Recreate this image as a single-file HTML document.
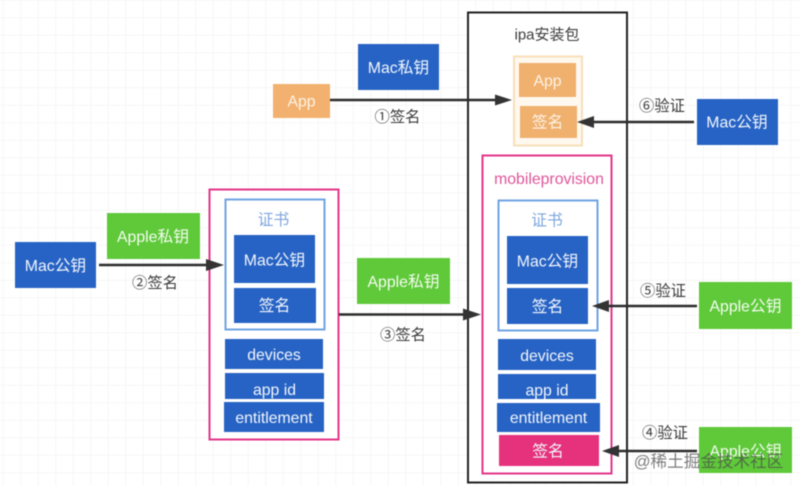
<!DOCTYPE html>
<html lang="zh">
<head>
<meta charset="utf-8">
<title>ipa签名流程</title>
<style>
html,body{margin:0;padding:0;width:800px;height:486px;overflow:hidden;background:#fff}
svg{display:block;filter:blur(.45px)}
text{font-family:"Liberation Sans","Noto Sans CJK SC",sans-serif;font-size:15.8px;text-anchor:middle;dominant-baseline:central;transform:translateY(.8px)}
.w{fill:#f2f6fc}
.d{fill:#3c3c3c}
.g{fill:#f4fbf0}
.o{fill:#fdf3e6}
.bt{fill:#7fa6de}
.line{stroke:#2b2b2b;stroke-width:2.4;fill:none}
.head{fill:#333}
</style>
</head>
<body>
<svg xmlns="http://www.w3.org/2000/svg" width="800" height="486" viewBox="0 0 800 486">
<defs>
<pattern id="grid" width="17.5" height="17.5" patternUnits="userSpaceOnUse" x="3" y="0">
<path d="M0 0V17.5M0 0H17.5" stroke="#f0f0f0" stroke-width="1" fill="none"/>
</pattern>
</defs>
<rect width="800" height="486" fill="#fff"/>
<rect width="800" height="486" fill="url(#grid)"/>

<!-- ipa package -->
<rect x="468" y="12.5" width="159" height="470" fill="#fff" stroke="#222" stroke-width="2"/>
<text x="547" y="34" class="d" style="font-size:15px">ipa安装包</text>
<rect x="514" y="56.5" width="68" height="89" fill="#fef8ee" stroke="#f7dfba" stroke-width="2"/>
<rect x="519" y="63" width="57" height="34" fill="#f0b06e"/>
<text x="547.5" y="80.5" class="o">App</text>
<rect x="520" y="106" width="57" height="32" fill="#f0b06e"/>
<text x="547.5" y="122" class="o">签名</text>

<!-- mobileprovision -->
<rect x="482.5" y="155.5" width="129" height="318" fill="#fff" stroke="#e2358a" stroke-width="2"/>
<text x="549" y="178.500" style="fill:#e0559a;font-size:15.800px">mobileprovision</text>
<rect x="498.5" y="200.5" width="99" height="130" fill="#fff" stroke="#6fa3e2" stroke-width="2"/>
<text x="547" y="220" class="bt">证书</text>
<rect x="507" y="236" width="81" height="48" fill="#2763c4"/>
<text x="547.5" y="261" class="w">Mac公钥</text>
<rect x="507" y="288" width="81" height="36" fill="#2763c4"/>
<text x="547.5" y="306.500" class="w">签名</text>
<rect x="498" y="339" width="98" height="31" fill="#2763c4"/>
<text x="547" y="355.500" class="w">devices</text>
<rect x="498" y="374" width="98" height="25" fill="#2763c4"/>
<text x="547" y="390" class="w">app id</text>
<rect x="496" y="399" width="106" height="4" fill="#fff"/>
<rect x="497" y="403" width="103" height="29" fill="#2763c4"/>
<text x="548.500" y="417.500" class="w">entitlement</text>
<rect x="499" y="435" width="100" height="31" fill="#e6317c"/>
<text x="548" y="451" class="w">签名</text>

<!-- certificate on the left -->
<rect x="209.500" y="189.500" width="129" height="250" fill="#fff" stroke="#e2358a" stroke-width="2"/>
<rect x="225.500" y="199.500" width="99" height="130" fill="#fff" stroke="#6fa3e2" stroke-width="2"/>
<text x="273.500" y="219.500" class="bt">证书</text>
<rect x="234" y="235" width="81" height="48" fill="#2763c4"/>
<text x="274.500" y="260" class="w">Mac公钥</text>
<rect x="234" y="288" width="82" height="35" fill="#2763c4"/>
<text x="274.500" y="305.500" class="w">签名</text>
<rect x="225" y="339" width="98" height="30" fill="#2763c4"/>
<text x="274" y="354.500" class="w">devices</text>
<rect x="225" y="373" width="99" height="26" fill="#2763c4"/>
<text x="274.500" y="389.500" class="w">app id</text>
<rect x="223" y="399" width="102" height="3" fill="#fff"/>
<rect x="224" y="402" width="100" height="30" fill="#2763c4"/>
<text x="274" y="417.500" class="w">entitlement</text>

<!-- outer nodes -->
<rect x="15" y="242" width="81" height="46" fill="#2763c4"/>
<text x="55.500" y="265.500" class="w">Mac公钥</text>
<rect x="107" y="213" width="93" height="46" fill="#5fc93a"/>
<text x="153" y="236.500" class="g">Apple私钥</text>
<rect x="273" y="84" width="57" height="34" fill="#f2b16f"/>
<text x="301.500" y="101" class="o">App</text>
<rect x="358" y="44" width="81" height="46" fill="#2763c4"/>
<text x="398.500" y="67.500" class="w">Mac私钥</text>
<rect x="357" y="258" width="93" height="46" fill="#5fc93a"/>
<text x="403.500" y="281.500" class="g">Apple私钥</text>
<rect x="697" y="99" width="81" height="46" fill="#2763c4"/>
<text x="737" y="122" class="w">Mac公钥</text>
<rect x="699" y="282" width="93" height="47" fill="#5fc93a"/>
<text x="745.500" y="306" class="g">Apple公钥</text>
<rect x="699" y="427" width="93" height="46" fill="#5fc93a"/>
<text x="745.500" y="451" class="g">Apple公钥</text>

<!-- connectors -->
<path class="line" d="M330 100H498"/>
<path class="head" d="M512 100L495 94.500V105.500Z"/>
<path class="line" d="M99 265H210"/>
<path class="head" d="M224 265L206 259V271Z"/>
<path class="line" d="M339 314.500H467"/>
<path class="head" d="M481 314.500L463 308.500V320.500Z"/>
<path class="line" d="M694 122H590"/>
<path class="head" d="M577 122L594 116V128Z"/>
<path class="line" d="M697 306H605"/>
<path class="head" d="M592 306L609 300V312Z"/>
<path class="line" d="M697 451H615"/>
<path class="head" d="M602 451L619 445V457Z"/>

<!-- connector labels -->
<text x="397.500" y="116.500" class="d" style="font-size:15.300px">①签名</text>
<text x="155" y="282.500" class="d" style="font-size:15.300px">②签名</text>
<text x="403" y="334.500" class="d" style="font-size:15.300px">③签名</text>
<text x="665" y="432.500" class="d" style="font-size:15.300px">④验证</text>
<text x="663" y="290.500" class="d" style="font-size:15.300px">⑤验证</text>
<text x="662" y="105.500" class="d" style="font-size:15.300px">⑥验证</text>

<!-- watermark -->
<text x="708.500" y="460.500" style="font-size:16.600px;fill:#4a4a4a;fill-opacity:.72">@稀土掘金技术社区</text>
</svg>
</body>
</html>
